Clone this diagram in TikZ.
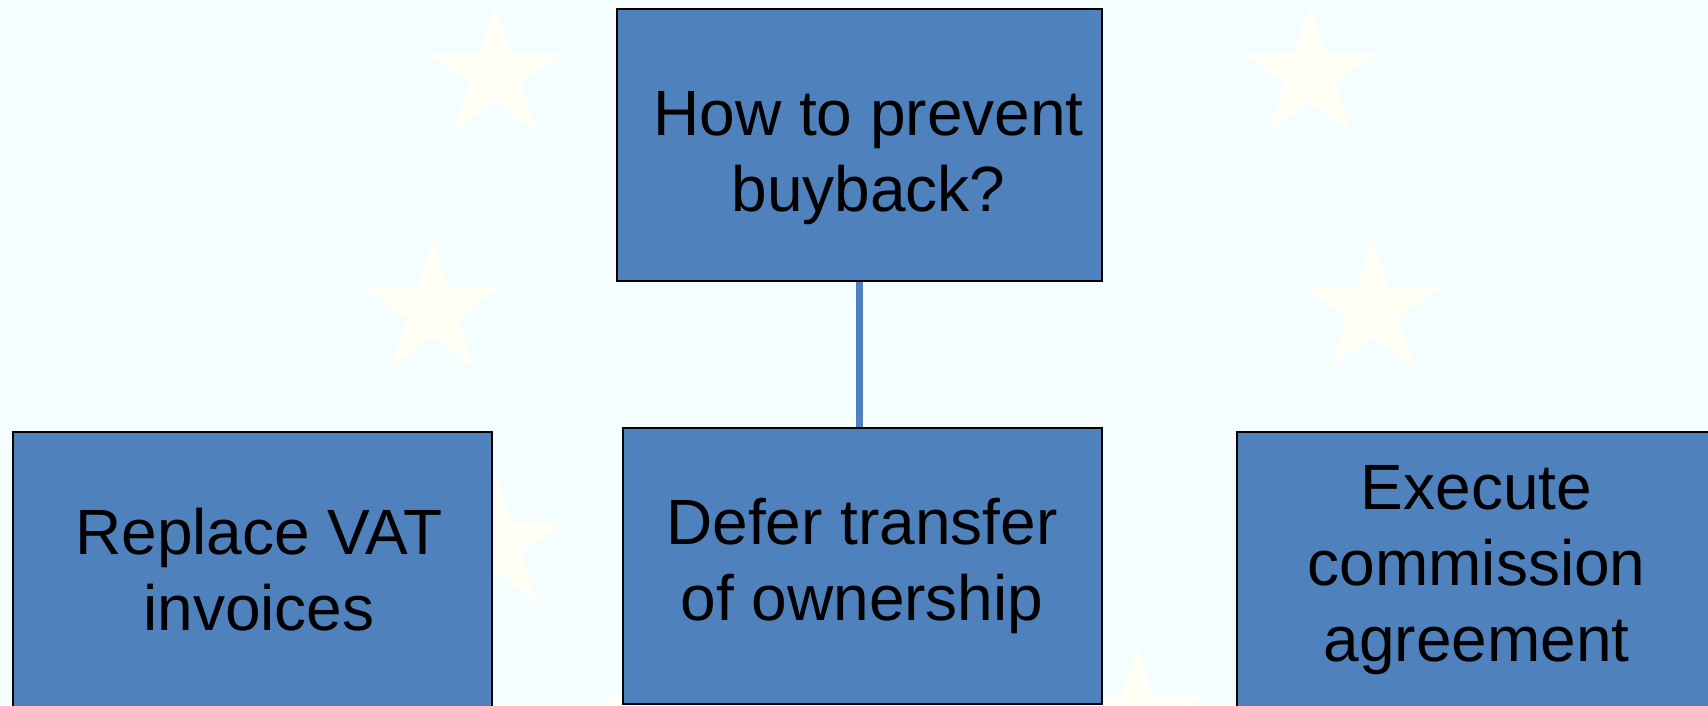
\documentclass[tikz,border=0pt]{standalone}
\usepackage{fontspec}
\setmainfont{Liberation Sans}
\usetikzlibrary{shapes.geometric}

\definecolor{boxblue}{RGB}{79,129,189}
\definecolor{paleback}{RGB}{244,253,255}
\definecolor{starwhite}{RGB}{255,255,246}

\begin{document}
\begin{tikzpicture}[x=1pt,y=-1pt,
	choice/.style={draw=black,line width=2pt,fill=boxblue,inner sep=0pt,align=center,minimum width=479pt,minimum height=276pt,font=\fontsize{64pt}{76pt}\selectfont},
	choicetext/.style={align=center,inner sep=0pt,font=\fontsize{64pt}{76pt}\selectfont},
	flagstar/.style={star,star points=5,star point ratio=2.618,fill=starwhite,inner sep=0pt,minimum size=141pt}]
	\path[fill=paleback,use as bounding box] (0,0) rectangle (1708,706);

	% ring of stars behind the boxes
	\foreach \a in {0,30,...,330}
		\node[flagstar] (star\a) at ([shift={(902.5,310)}]\a:470) {};

	\draw (859.5,145) node (question) [choice,minimum width=485pt,minimum height=272pt,
		label={[choicetext,xshift=9pt,yshift=-13pt]center:How to prevent\\buyback?}] {};

	\draw (252,570) node (replace) [choice,
		label={[choicetext,xshift=7pt]center:Replace VAT\\invoices}] {};
	\draw (862,566) node (defer) [choice] {Defer transfer\\of ownership};
	\draw (1476.5,570) node (execute) [choice] {Execute\\commission\\agreement};

	\draw[boxblue,line width=6.5pt] (question.south) -- (question.south |- defer.north);
\end{tikzpicture}
\end{document}
